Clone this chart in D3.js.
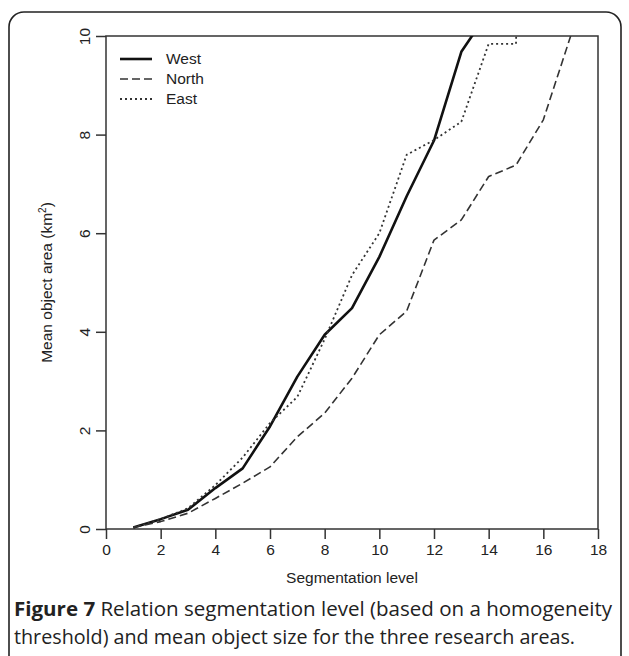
<!DOCTYPE html>
<html>
<head>
<meta charset="utf-8">
<script src="https://cdn.jsdelivr.net/npm/d3@7"></script>
<style>
  body { margin: 0; background: #fff; }
  svg { display: block; }
</style>
</head>
<body>
<script>
// Segmentation levels and mean object area (km2) for each research area
const westLevels = [1, 2, 3, 4, 5, 6, 7, 8, 9, 10, 11, 12, 13, 14];
const westArea = [0.03, 0.2, 0.39, 0.83, 1.23, 2.08, 3.09, 3.94, 4.48, 5.52, 6.75, 7.88, 9.68, 10.5];

const northLevels = [1, 2, 3, 4, 5, 6, 7, 8, 9, 10, 11, 12, 13, 14, 15, 16, 17];
const northArea = [0.03, 0.15, 0.32, 0.62, 0.93, 1.26, 1.87, 2.35, 3.06, 3.94, 4.42, 5.86, 6.27, 7.15, 7.38, 8.3, 10.0];

const eastLevels = [1, 2, 3, 4, 5, 6, 7, 8, 9, 10, 11, 12, 13, 14, 15, 16];
const eastArea = [0.03, 0.2, 0.42, 0.89, 1.45, 2.15, 2.68, 3.85, 5.15, 6.0, 7.59, 7.89, 8.26, 9.84, 9.84, 35];

const xTicks = [0, 2, 4, 6, 8, 10, 12, 14, 16, 18];
const yTicks = [0, 2, 4, 6, 8, 10];

const seriesNames = ["West", "North", "East"];

const W = 629, H = 656;
const plot = { left: 106, right: 598, top: 36, bottom: 529 };
const font = "'Liberation Sans', Arial, sans-serif";

const svg = d3.select("body").append("svg")
  .attr("width", W)
  .attr("height", H);

// outer figure frame (open at the bottom of the window)
svg.append("rect")
  .attr("x", 9).attr("y", 12)
  .attr("width", 612).attr("height", 720)
  .attr("rx", 15)
  .attr("fill", "none")
  .attr("stroke", "#222")
  .attr("stroke-width", 1.6);

const x = d3.scaleLinear().domain([0, 18]).range([plot.left, plot.right]);
const y = d3.scaleLinear().domain([0, 10]).range([plot.bottom, plot.top]);

svg.append("clipPath").attr("id", "clip")
  .append("rect")
  .attr("x", plot.left).attr("y", plot.top)
  .attr("width", plot.right - plot.left)
  .attr("height", plot.bottom - plot.top);

// axes
const xAxis = svg.append("g")
  .attr("transform", `translate(0,${plot.bottom})`)
  .call(d3.axisBottom(x).tickValues(xTicks).tickSize(10).tickPadding(5).tickFormat(d3.format("d")));

const yAxis = svg.append("g")
  .attr("transform", `translate(${plot.left},0)`)
  .call(d3.axisLeft(y).tickValues(yTicks).tickSize(10).tickPadding(8).tickFormat(d3.format("d")));

[xAxis, yAxis].forEach(g => {
  g.select(".domain").remove();
  g.selectAll("line").attr("stroke", "#333").attr("stroke-width", 1.5);
  g.selectAll("text")
    .attr("font-family", font)
    .attr("font-size", 15.5)
    .attr("fill", "#222");
});

// rotate y tick labels like R (las = 0)
yAxis.selectAll(".tick text")
  .attr("text-anchor", "middle")
  .attr("x", null)
  .attr("transform", "translate(-21,0) rotate(-90)")
  .attr("dy", "0.35em");

// plot box
svg.append("rect")
  .attr("x", plot.left).attr("y", plot.top)
  .attr("width", plot.right - plot.left)
  .attr("height", plot.bottom - plot.top)
  .attr("fill", "none")
  .attr("stroke", "#333")
  .attr("stroke-width", 1.5);

// axis titles
svg.append("text")
  .attr("x", (plot.left + plot.right) / 2)
  .attr("y", 583)
  .attr("text-anchor", "middle")
  .attr("font-family", font)
  .attr("font-size", 15.5)
  .attr("fill", "#222")
  .text("Segmentation level");

const yTitle = svg.append("text")
  .attr("transform", `translate(52,${(plot.top + plot.bottom) / 2}) rotate(-90)`)
  .attr("text-anchor", "middle")
  .attr("font-family", font)
  .attr("font-size", 15.5)
  .attr("fill", "#222");
yTitle.append("tspan").text("Mean object area (km");
yTitle.append("tspan").attr("font-size", 10).attr("dy", -6).text("2");
yTitle.append("tspan").attr("dy", 6).text(")");

// lines
const styles = {
  West: { width: 2.6, dash: null, color: "#111" },
  North: { width: 1.6, dash: "8,4", color: "#333" },
  East: { width: 1.8, dash: "2,3", color: "#333" }
};

const seriesData = {
  West: westLevels.map((l, i) => ({ level: l, area: westArea[i] })),
  North: northLevels.map((l, i) => ({ level: l, area: northArea[i] })),
  East: eastLevels.map((l, i) => ({ level: l, area: eastArea[i] }))
};

const line = d3.line()
  .x(d => x(d.level))
  .y(d => y(d.area));

const linesG = svg.append("g").attr("clip-path", "url(#clip)");
seriesNames.forEach(name => {
  const s = styles[name];
  linesG.append("path")
    .datum(seriesData[name])
    .attr("fill", "none")
    .attr("stroke", s.color)
    .attr("stroke-width", s.width)
    .attr("stroke-dasharray", s.dash)
    .attr("stroke-linejoin", "round")
    .attr("d", line);
});

// legend
const legend = svg.append("g");
seriesNames.forEach((name, i) => {
  const s = styles[name];
  const ly = 59 + i * 20;
  legend.append("line")
    .attr("x1", 120).attr("x2", 152)
    .attr("y1", ly).attr("y2", ly)
    .attr("stroke", s.color)
    .attr("stroke-width", s.width)
    .attr("stroke-dasharray", s.dash);
  legend.append("text")
    .attr("x", 166).attr("y", ly + 5)
    .attr("font-family", font)
    .attr("font-size", 15.5)
    .attr("fill", "#222")
    .text(name);
});

// caption
const capFont = "'Open Sans', 'Noto Sans', sans-serif";
const cap1 = svg.append("text")
  .attr("x", 14).attr("y", 616)
  .attr("font-family", capFont)
  .attr("font-size", 19.5)
  .attr("textLength", 598)
  .attr("lengthAdjust", "spacingAndGlyphs")
  .attr("fill", "#222");
cap1.append("tspan").attr("font-weight", "bold").text("Figure 7");
cap1.append("tspan").text(" Relation segmentation level (based on a homogeneity");

svg.append("text")
  .attr("x", 14).attr("y", 644)
  .attr("font-family", capFont)
  .attr("font-size", 19.5)
  .attr("textLength", 561)
  .attr("lengthAdjust", "spacingAndGlyphs")
  .attr("fill", "#222")
  .text("threshold) and mean object size for the three research areas.");
</script>
</body>
</html>
